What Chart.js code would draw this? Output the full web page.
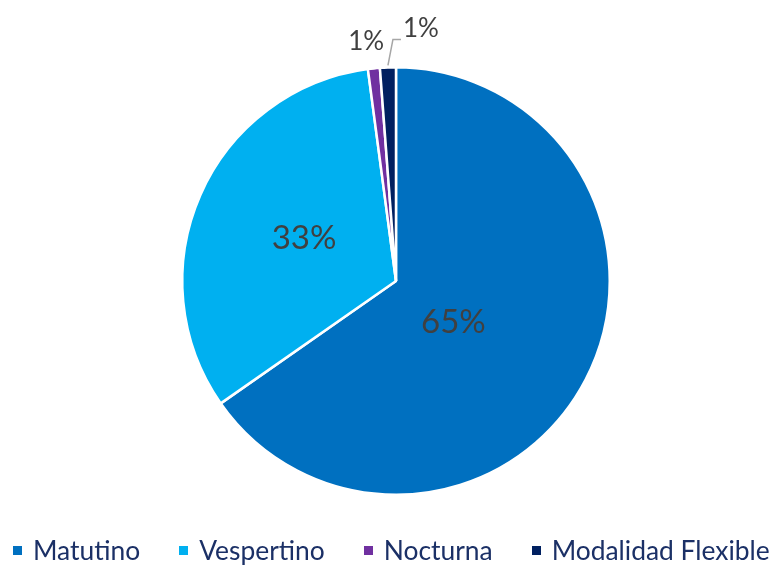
<!DOCTYPE html>
<html><head><meta charset="utf-8">
<script src="https://cdn.jsdelivr.net/npm/chart.js@4/dist/chart.umd.min.js"></script>
<style>
html,body{margin:0;padding:0;background:#fff}
#w{position:relative;width:780px;height:565px}
#c{position:absolute;left:0;top:0}
#lg{position:absolute;left:13px;top:532px;height:36px;display:flex;align-items:center;white-space:nowrap;font-family:Lato,'Open Sans',sans-serif;font-size:26.4px;color:#1B3066}
#lg .it{display:flex;align-items:center;margin-right:39px}
#lg .sq{width:9px;height:9px;margin-right:11px;display:inline-block}
</style>
</head><body><div id="w"><canvas id="c" width="780" height="565"></canvas><div id="lg"></div></div>
<script>
const categories = ["Matutino", "Vespertino", "Nocturna", "Modalidad Flexible"];
const values = [65.3, 32.6, 0.9, 1.2];
const labelsText = ["65%", "33%", "1%", "1%"];
const colors = ["#0070C0", "#00B0F0", "#7030A0", "#002060"];

const FONT = "Lato, 'Open Sans', sans-serif";

const labelPlugin = {
  id: 'pctLabels',
  afterDatasetsDraw(chart) {
    const ctx = chart.ctx;
    const meta = chart.getDatasetMeta(0);
    ctx.save();
    ctx.textAlign = 'center';
    ctx.textBaseline = 'middle';
    ctx.fillStyle = '#404040';
    meta.data.forEach((arc, i) => {
      const p = arc.getProps(['x','y','startAngle','endAngle','outerRadius'], true);
      const mid = (p.startAngle + p.endAngle) / 2;
      if (i === 0) {
        const a = mid + 0.14;
        ctx.font = "400 33px " + FONT;
        const r = p.outerRadius * 0.33;
        ctx.fillText(labelsText[i], p.x + Math.cos(a) * r, p.y + Math.sin(a) * r);
      } else if (i === 1) {
        ctx.font = "400 33px " + FONT;
        const r = p.outerRadius * 0.47;
        ctx.fillText(labelsText[i], p.x + Math.cos(mid) * r, p.y + Math.sin(mid) * r - 2);
      } else if (i === 2) {
        ctx.font = "400 26px " + FONT;
        const r = p.outerRadius + 27;
        ctx.fillText(labelsText[i], p.x + Math.cos(mid) * r - 5, p.y + Math.sin(mid) * r);
      } else {
        const ox = p.x + Math.cos(mid) * p.outerRadius, oy = p.y + Math.sin(mid) * p.outerRadius;
        ctx.strokeStyle = '#A6A6A6';
        ctx.lineWidth = 1.5;
        ctx.beginPath();
        ctx.moveTo(ox, oy - 2);
        ctx.lineTo(ox + 5, oy - 28);
        ctx.lineTo(ox + 13, oy - 28);
        ctx.stroke();
        ctx.font = "400 26px " + FONT;
        ctx.textAlign = 'left';
        ctx.fillText(labelsText[i], ox + 15, oy - 39);
      }
    });
    ctx.restore();
  }
};

const chart = new Chart(document.getElementById('c'), {
  type: 'pie',
  data: {
    labels: categories,
    datasets: [{
      data: values,
      backgroundColor: colors,
      borderColor: '#ffffff',
      borderWidth: 2.5
    }]
  },
  options: {
    responsive: false,
    animation: false,
    layout: { padding: { top: 66, left: 12, right: 0, bottom: 69 } },
    plugins: {
      tooltip: { enabled: false },
      legend: { display: false }
    }
  },
  plugins: [labelPlugin]
});

// legend built from the chart's own data
const lg = document.getElementById('lg');
chart.data.labels.forEach((lab, i) => {
  const it = document.createElement('span');
  it.className = 'it';
  const sq = document.createElement('span');
  sq.className = 'sq';
  sq.style.background = chart.data.datasets[0].backgroundColor[i];
  const tx = document.createElement('span');
  tx.textContent = lab;
  it.appendChild(sq); it.appendChild(tx);
  lg.appendChild(it);
});
</script>
</body></html>
